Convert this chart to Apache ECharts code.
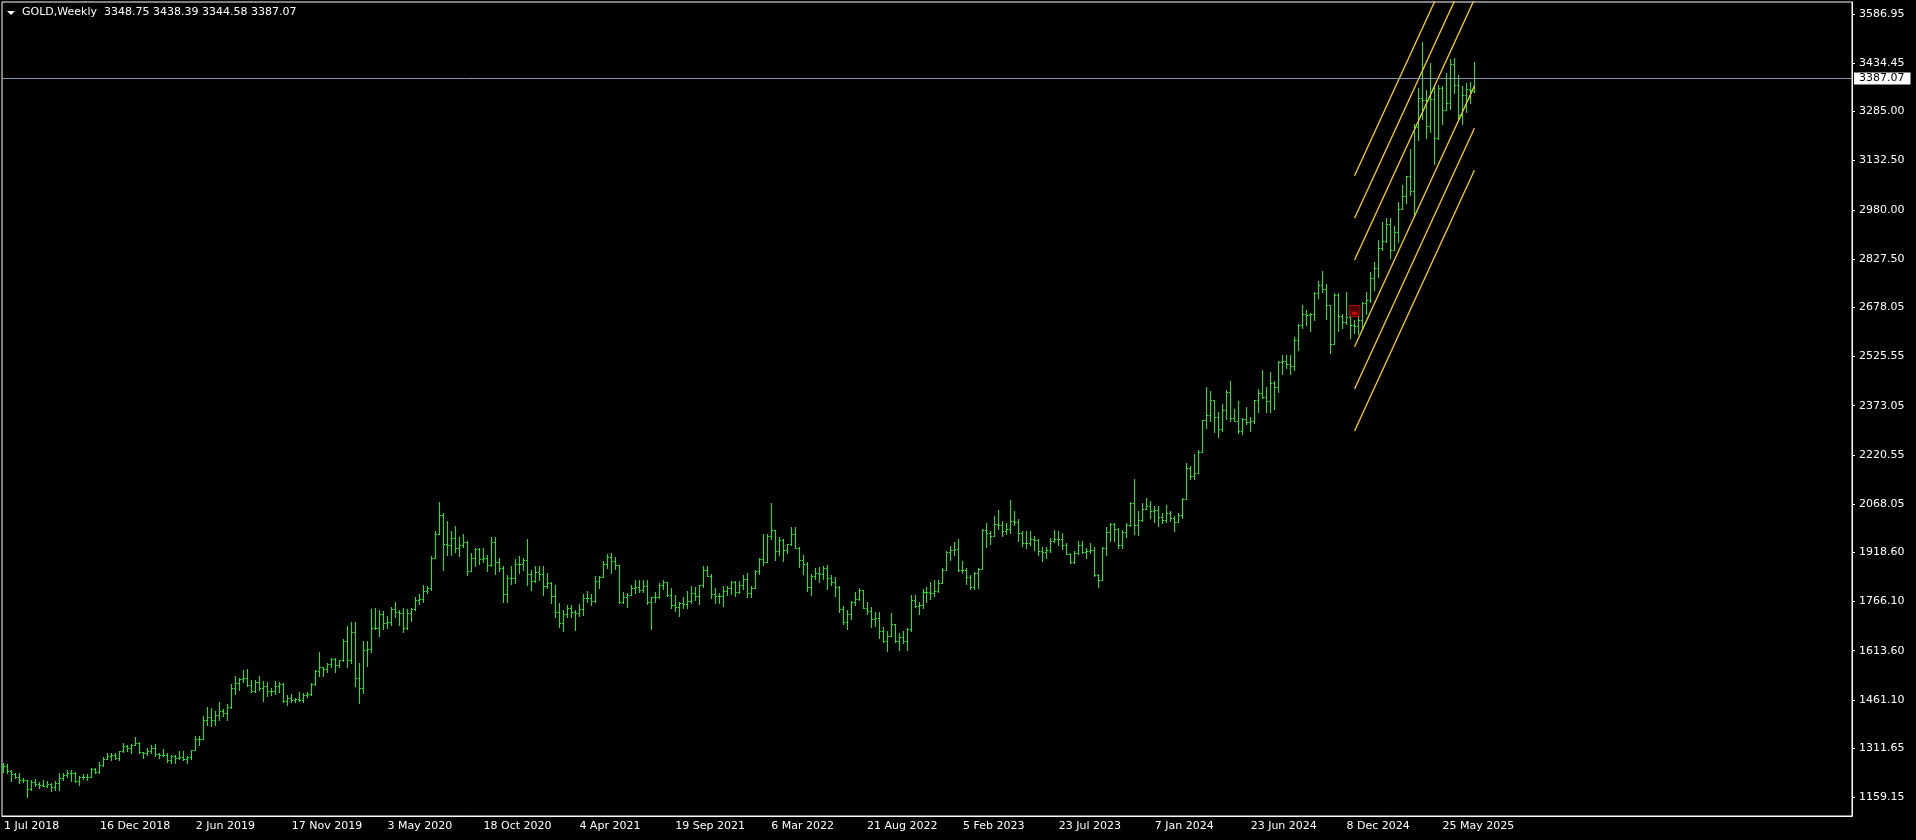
<!DOCTYPE html>
<html>
<head>
<meta charset="utf-8">
<title>GOLD,Weekly</title>
<script src="https://cdn.jsdelivr.net/npm/echarts@6/dist/echarts.min.js"></script>
<style>
  html, body { margin: 0; padding: 0; background: #000; }
  #chart { width: 1916px; height: 840px; }
</style>
</head>
<body>
<div id="chart"></div>
<script>
// weekly bars [open, high, low, close], one list per year (week starts Sunday)
const bars2018 = [
  [1253,1265,1238,1255],[1255,1262,1236,1241],[1241,1243,1211,1231],[1231,1235,1218,1223],[1223,1235,1204,1214],
  [1214,1220,1207,1212],[1212,1213,1160,1184],[1184,1214,1183,1206],[1206,1215,1194,1201],
  [1201,1207,1189,1198],[1198,1214,1193,1194],[1194,1211,1191,1200],[1200,1204,1180,1191],[1191,1209,1183,1203],
  [1203,1233,1183,1218],[1218,1233,1214,1227],[1227,1243,1221,1234],[1234,1243,1211,1233],
  [1233,1237,1206,1209],[1209,1225,1196,1222],[1222,1230,1215,1222],[1222,1230,1212,1222],
  [1222,1250,1221,1248],[1248,1251,1234,1238],[1238,1268,1236,1258],[1258,1285,1256,1279],[1279,1298,1278,1287]
]
const bars2019 = [
  [1287,1297,1276,1290],[1290,1298,1279,1282],[1282,1303,1275,1303],[1303,1326,1301,1318],
  [1318,1322,1302,1313],[1313,1323,1298,1322],[1322,1346,1320,1328],[1328,1331,1297,1299],
  [1299,1300,1281,1298],[1298,1311,1290,1302],[1302,1320,1298,1313],[1313,1325,1288,1292],[1292,1298,1280,1291],
  [1291,1310,1287,1290],[1290,1295,1270,1276],[1276,1289,1266,1286],[1286,1289,1266,1281],
  [1281,1303,1279,1285],[1285,1303,1275,1277],[1277,1287,1267,1284],[1284,1306,1278,1305],
  [1305,1348,1305,1341],[1341,1348,1322,1341],[1341,1411,1340,1400],[1400,1439,1384,1409],[1409,1437,1381,1399],
  [1399,1427,1382,1415],[1415,1453,1400,1426],[1426,1433,1412,1419],[1419,1449,1400,1440],
  [1440,1510,1437,1497],[1497,1535,1480,1513],[1513,1528,1492,1527],[1527,1555,1518,1529],
  [1529,1557,1505,1507],[1507,1524,1485,1488],[1488,1523,1485,1516],[1516,1535,1493,1497],[1497,1519,1459,1504],
  [1504,1516,1474,1489],[1489,1498,1476,1490],[1490,1519,1480,1505],[1505,1516,1486,1510],
  [1510,1514,1456,1458],[1458,1477,1445,1468],[1468,1478,1455,1462],[1462,1468,1453,1464],
  [1464,1485,1458,1460],[1460,1481,1456,1476],[1476,1486,1470,1478],[1478,1514,1476,1510],[1510,1553,1508,1552]
]
const bars2020 = [
  [1552,1611,1536,1562],[1562,1564,1536,1557],[1557,1575,1546,1571],[1571,1590,1562,1589],
  [1589,1591,1547,1570],[1570,1584,1562,1584],[1584,1650,1582,1643],[1643,1689,1563,1585],
  [1585,1704,1575,1673],[1673,1703,1504,1530],[1530,1576,1451,1498],[1498,1645,1483,1617],[1617,1645,1567,1620],
  [1620,1744,1610,1683],[1683,1747,1680,1683],[1683,1739,1660,1727],[1727,1738,1680,1700],
  [1700,1722,1683,1702],[1702,1748,1692,1743],[1743,1765,1718,1734],[1734,1740,1692,1730],[1730,1745,1670,1685],
  [1685,1744,1681,1729],[1729,1746,1705,1743],[1743,1779,1740,1771],[1771,1789,1758,1775],
  [1775,1818,1764,1798],[1798,1815,1792,1807],[1807,1906,1802,1902],[1902,1984,1900,1975],
  [1975,2075,1975,2035],[2035,2040,1863,1945],[1945,2015,1910,1940],[1940,1985,1911,1964],[1964,2000,1920,1933],
  [1933,1966,1906,1940],[1940,1974,1936,1950],[1950,1955,1848,1861],[1861,1916,1860,1900],
  [1900,1933,1876,1930],[1930,1933,1883,1899],[1899,1933,1889,1902],[1902,1910,1860,1878],
  [1878,1965,1875,1951],[1951,1965,1850,1889],[1889,1900,1860,1870],[1870,1875,1765,1788],[1788,1848,1764,1839],
  [1839,1875,1820,1839],[1839,1897,1822,1881],[1881,1907,1855,1883],[1883,1900,1864,1895]
]
const bars2021 = [
  [1895,1960,1817,1850],[1850,1864,1802,1830],[1830,1876,1827,1856],[1856,1875,1832,1850],[1850,1875,1785,1814],
  [1814,1855,1808,1823],[1823,1825,1760,1784],[1784,1816,1717,1734],[1734,1760,1687,1700],
  [1700,1740,1676,1727],[1727,1755,1719,1745],[1745,1756,1718,1732],[1732,1740,1677,1729],
  [1729,1759,1720,1744],[1744,1790,1723,1777],[1777,1798,1764,1777],[1777,1790,1756,1769],
  [1769,1845,1766,1831],[1831,1846,1808,1843],[1843,1890,1842,1881],[1881,1913,1870,1903],[1903,1916,1855,1891],
  [1891,1903,1866,1878],[1878,1878,1761,1764],[1764,1795,1762,1781],[1781,1791,1750,1787],
  [1787,1818,1785,1808],[1808,1834,1791,1812],[1812,1832,1794,1801],[1801,1832,1795,1814],
  [1814,1832,1758,1763],[1763,1781,1680,1780],[1780,1795,1766,1781],[1781,1823,1777,1818],[1818,1834,1805,1827],
  [1827,1827,1782,1787],[1787,1808,1745,1754],[1754,1787,1737,1750],[1750,1765,1721,1761],
  [1761,1781,1745,1757],[1757,1800,1746,1767],[1767,1813,1760,1793],[1793,1810,1770,1783],[1783,1818,1758,1818],
  [1818,1877,1812,1865],[1865,1877,1845,1846],[1846,1850,1778,1788],[1788,1808,1762,1783],
  [1783,1793,1762,1783],[1783,1814,1753,1798],[1798,1815,1786,1808],[1808,1831,1789,1828]
]
const bars2022 = [
  [1828,1830,1782,1797],[1797,1830,1791,1817],[1817,1847,1804,1835],[1835,1853,1780,1791],[1791,1815,1780,1808],
  [1808,1865,1807,1859],[1859,1902,1850,1898],[1898,1975,1878,1889],[1889,1974,1889,1970],
  [1970,2070,1960,1988],[1988,1989,1895,1921],[1921,1966,1910,1958],[1958,1960,1890,1925],
  [1925,1945,1915,1945],[1945,1998,1940,1974],[1974,1998,1931,1931],[1931,1936,1872,1896],
  [1896,1909,1850,1883],[1883,1887,1798,1811],[1811,1850,1786,1846],[1846,1870,1836,1853],[1853,1874,1828,1850],
  [1850,1875,1836,1871],[1871,1879,1805,1840],[1840,1847,1816,1827],[1827,1842,1784,1811],
  [1811,1813,1732,1742],[1742,1753,1697,1703],[1703,1739,1681,1727],[1727,1767,1711,1766],[1766,1795,1754,1775],
  [1775,1807,1772,1802],[1802,1803,1745,1747],[1747,1765,1727,1738],[1738,1749,1688,1712],
  [1712,1735,1691,1716],[1716,1735,1654,1675],[1675,1688,1639,1644],[1644,1675,1614,1660],
  [1660,1730,1659,1695],[1695,1695,1642,1644],[1644,1669,1617,1657],[1657,1676,1638,1645],[1645,1684,1616,1681],
  [1681,1787,1675,1771],[1771,1786,1750,1751],[1751,1763,1727,1754],[1754,1804,1746,1797],
  [1797,1810,1765,1797],[1797,1825,1773,1793],[1793,1833,1784,1798],[1798,1833,1796,1824]
]
const bars2023 = [
  [1824,1869,1823,1865],[1865,1921,1864,1920],[1920,1937,1896,1926],[1926,1949,1911,1928],[1928,1960,1861,1865],
  [1865,1890,1855,1865],[1865,1870,1819,1842],[1842,1847,1805,1811],[1811,1858,1804,1855],
  [1855,1870,1809,1868],[1868,1990,1868,1989],[1989,2010,1934,1978],[1978,1985,1944,1969],
  [1969,2032,1969,2007],[2007,2049,1992,2004],[2004,2015,1969,1983],[1983,2010,1975,1990],[1990,2080,1978,2017],
  [2017,2048,2002,2011],[2011,2023,1952,1977],[1977,1985,1937,1946],[1946,1983,1932,1948],
  [1948,1985,1940,1961],[1961,1970,1925,1958],[1958,1960,1910,1921],[1921,1935,1893,1919],
  [1919,1935,1902,1925],[1925,1963,1920,1955],[1955,1988,1950,1961],[1961,1983,1942,1959],[1959,1977,1930,1942],
  [1942,1948,1912,1914],[1914,1916,1885,1889],[1889,1922,1884,1915],[1915,1953,1913,1940],
  [1940,1953,1915,1919],[1919,1932,1900,1924],[1924,1947,1915,1925],[1925,1935,1846,1849],
  [1849,1851,1810,1832],[1832,1935,1832,1932],[1932,1997,1909,1981],[1981,2009,1953,2006],[2006,2009,1953,1992],
  [1992,1993,1932,1940],[1940,1988,1931,1981],[1981,2008,1965,2002],[2002,2075,2001,2072],
  [2072,2146,1975,2004],[2004,2047,1973,2019],[2019,2070,2016,2053],[2053,2088,2052,2062],[2062,2078,2024,2045]
]
const bars2024 = [
  [2045,2062,2013,2049],[2049,2061,2001,2029],[2029,2040,2009,2018],[2018,2065,2012,2039],
  [2039,2046,2014,2024],[2024,2032,1984,2013],[2013,2041,2011,2035],[2035,2088,2025,2083],
  [2083,2195,2083,2179],[2179,2185,2146,2155],[2155,2222,2146,2165],[2165,2236,2163,2230],[2230,2330,2228,2329],
  [2329,2432,2305,2344],[2344,2418,2324,2392],[2392,2392,2291,2337],[2337,2354,2277,2301],
  [2301,2378,2293,2360],[2360,2422,2332,2415],[2415,2450,2325,2334],[2334,2364,2324,2327],
  [2327,2388,2287,2293],[2293,2335,2286,2333],[2333,2368,2316,2322],[2322,2338,2293,2326],[2326,2392,2318,2391],
  [2391,2424,2353,2411],[2411,2484,2398,2400],[2400,2432,2353,2387],[2387,2477,2353,2443],
  [2443,2450,2364,2431],[2431,2510,2416,2507],[2507,2531,2470,2512],[2512,2529,2491,2503],
  [2503,2529,2472,2497],[2497,2586,2485,2578],[2578,2626,2546,2622],[2622,2685,2614,2658],[2658,2670,2624,2653],
  [2653,2660,2603,2657],[2657,2725,2640,2721],[2721,2759,2708,2747],[2747,2790,2726,2736],
  [2736,2750,2643,2685],[2685,2685,2536,2563],[2563,2721,2563,2715],[2715,2721,2605,2650],
  [2650,2658,2613,2633],[2633,2726,2627,2648],[2648,2665,2583,2622],[2622,2640,2599,2621],[2621,2665,2596,2640]
]
const bars2025 = [
  [2640,2695,2614,2690],[2690,2725,2656,2702],[2702,2786,2694,2770],[2770,2817,2730,2799],
  [2799,2886,2772,2861],[2861,2942,2855,2882],[2882,2955,2880,2935],[2935,2956,2832,2857],
  [2857,2930,2854,2910],[2910,3004,2880,2984],[2984,3057,2982,3022],[3022,3086,3000,3084],[3084,3167,3025,3037],
  [3037,3245,2957,3237],[3237,3357,3195,3327],[3327,3500,3260,3319],[3319,3350,3202,3240],
  [3240,3435,3222,3325],[3325,3366,3121,3202],[3202,3366,3200,3357],[3357,3365,3245,3290],
  [3290,3403,3288,3310],[3310,3446,3293,3433],[3433,3452,3341,3368],[3368,3398,3255,3274],[3274,3365,3247,3337],
  [3337,3374,3282,3355],[3355,3377,3310,3350],[3348.75,3438.39,3344.58,3387.07]
]
const bars = [].concat(bars2018, bars2019, bars2020, bars2021, bars2022, bars2023, bars2024, bars2025)

// price scale labels as printed on the right
const priceTicks = [1159.15, 1311.65, 1461.10, 1613.60, 1766.10, 1918.60, 2068.05, 2220.55, 2373.05,
  2525.55, 2678.05, 2827.50, 2980.00, 3132.50, 3285.00, 3434.45, 3586.95]
const yMin = 1101.2
const yMax = 3624.1

// yellow channel: 6 parallel lines from week 338 to week 368
const channelFrom = [3085.7, 2953.7, 2824.5, 2555.7, 2424.6, 2294.4]
const channelTo = [3893.7, 3761.7, 3632.5, 3363.7, 3232.6, 3102.4]
const channelWeeks = [338, 368]
const markerPoint = [338, 2666]

const FONT = 'DejaVu Sans'
const BAR_COLOR = '#14f014'
const MONTHS = ['Jan', 'Feb', 'Mar', 'Apr', 'May', 'Jun', 'Jul', 'Aug', 'Sep', 'Oct', 'Nov', 'Dec']
const SLOTS = 463 // weekly slots on screen, incl. the empty space to the right

// week dates for the category axis
const firstWeek = Date.UTC(2018, 6, 1)
const categories = []
for (let i = 0; i < SLOTS; i++) {
  if (i < bars.length) {
    const d = new Date(firstWeek + i * 7 * 86400000)
    categories.push(d.getUTCDate() + ' ' + MONTHS[d.getUTCMonth()] + ' ' + d.getUTCFullYear())
  } else {
    categories.push('')
  }
}

const last = bars[bars.length - 1]
const header = 'GOLD,Weekly  ' + last.map((v) => v.toFixed(2)).join(' ')
const showDate = (i) => i % 24 === 0 && i < bars.length

// MT4 style bar: high-low stick, open tick left, close tick right
const renderBar = (params, api) => {
  const i = api.value(0)
  const hi = api.coord([i, api.value(2)])
  const lo = api.coord([i, api.value(3)])
  const op = api.coord([i, api.value(1)])
  const cl = api.coord([i, api.value(4)])
  const x = Math.floor(hi[0])
  const yH = Math.round(hi[1])
  const yL = Math.round(lo[1])
  return {
    type: 'group',
    children: [
      { type: 'rect', shape: { x: x, y: yH, width: 1, height: Math.max(1, yL - yH + 1) }, style: { fill: BAR_COLOR } },
      { type: 'rect', shape: { x: x - 1, y: Math.round(op[1]), width: 1, height: 1 }, style: { fill: BAR_COLOR } },
      { type: 'rect', shape: { x: x + 1, y: Math.round(cl[1]), width: 1, height: 1 }, style: { fill: BAR_COLOR } },
    ],
  }
}

const channelSeries = channelFrom.map((p, k) => ({
  type: 'line',
  data: [[channelWeeks[0], p], [channelWeeks[1], channelTo[k]]],
  symbol: 'none',
  clip: true,
  silent: true,
  z: 3,
  lineStyle: { color: '#ffd200', width: 1.3 },
}))

// last price line + label on the price scale
channelSeries[0].markLine = {
  silent: true,
  symbol: ['none', 'none'],
  animation: false,
  data: [{ yAxis: last[3] }],
  lineStyle: { color: '#8795a6', width: 1, type: 'solid' },
  label: {
    position: 'end',
    distance: 2,
    formatter: last[3].toFixed(2),
    color: '#000',
    backgroundColor: '#fff',
    padding: [1, 6, 0, 5],
    fontFamily: FONT,
    fontSize: 11,
  },
}

const chart = echarts.init(document.getElementById('chart'))
chart.setOption({
  animation: false,
  backgroundColor: '#000',
  title: {
    text: header,
    left: 22,
    top: 7,
    padding: 0,
    textStyle: { color: '#fff', fontSize: 11, fontWeight: 'normal', fontFamily: FONT },
  },
  graphic: [
    { type: 'polygon', shape: { points: [[7, 11], [15, 11], [11, 15]] }, style: { fill: '#fff' } },
  ],
  grid: {
    left: 2,
    right: 64,
    top: 2,
    bottom: 24,
    show: true,
    borderColor: '#fff',
    borderWidth: 1,
    containLabel: false,
    outerBoundsMode: 'none',
  },
  xAxis: {
    type: 'category',
    data: categories,
    boundaryGap: true,
    axisLine: { lineStyle: { color: '#fff' } },
    axisTick: { interval: showDate, alignWithLabel: true, length: 4, lineStyle: { color: '#fff' } },
    axisLabel: {
      interval: showDate,
      align: 'left',
      margin: 5,
      color: '#fff',
      fontFamily: FONT,
      fontSize: 11,
    },
    splitLine: { show: false },
  },
  yAxis: {
    type: 'value',
    position: 'right',
    min: yMin,
    max: yMax,
    axisLine: { show: true, lineStyle: { color: '#fff' } },
    axisTick: { show: true, length: 3, customValues: priceTicks, lineStyle: { color: '#fff' } },
    axisLabel: {
      customValues: priceTicks,
      formatter: (v) => v.toFixed(2),
      margin: 7,
      color: '#fff',
      fontFamily: FONT,
      fontSize: 11,
    },
    splitLine: { show: false },
  },
  series: [
    {
      type: 'custom',
      renderItem: renderBar,
      data: bars.map((b, i) => [i, b[0], b[1], b[2], b[3]]),
      encode: { x: 0, y: [1, 2, 3, 4] },
      silent: true,
      z: 2,
    },
    ...channelSeries,
    {
      type: 'scatter',
      silent: true,
      z: 4,
      data: [
        { value: markerPoint, symbol: 'rect', symbolSize: 11, itemStyle: { color: '#5a0000', borderColor: '#e00000', borderWidth: 1 } },
        { value: markerPoint, symbol: 'rect', symbolSize: [5, 3], symbolOffset: [0, 2], itemStyle: { color: '#ff0000' } },
      ],
    },
  ],
})
</script>
</body>
</html>
